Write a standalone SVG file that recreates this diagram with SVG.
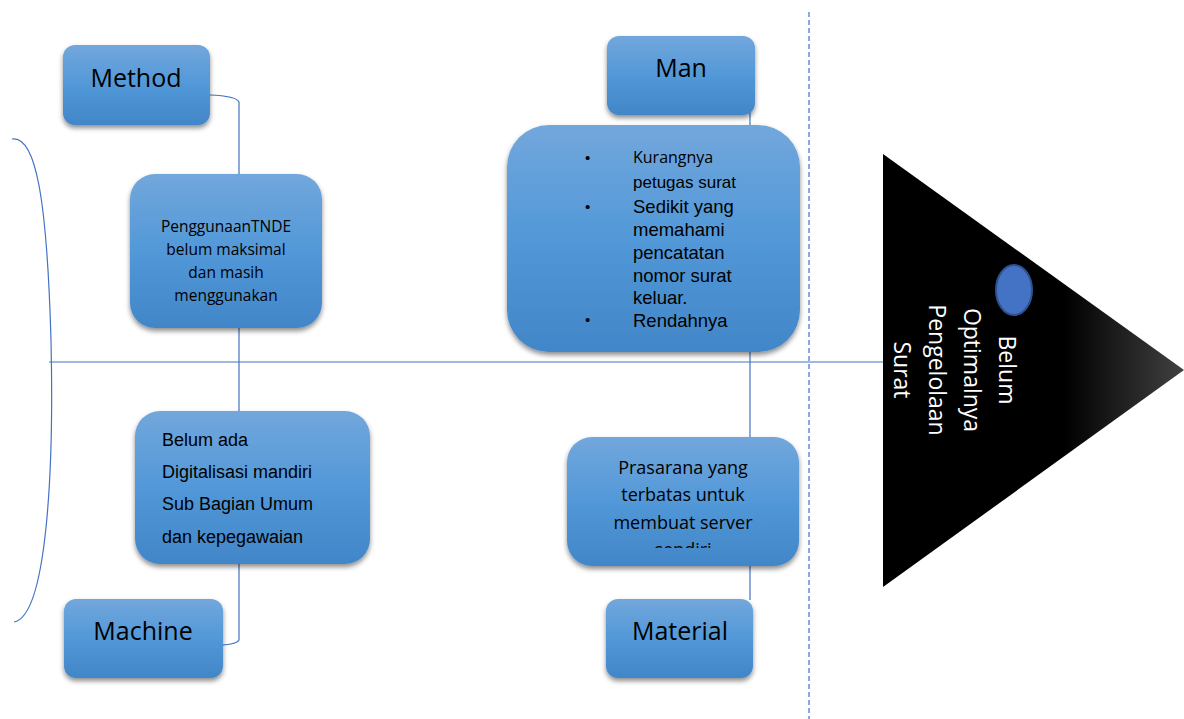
<svg xmlns="http://www.w3.org/2000/svg" width="1184" height="719" viewBox="0 0 1184 719">
<defs>
<linearGradient id="boxg" x1="0" y1="0" x2="0" y2="1">
<stop offset="0" stop-color="#72A7DC"/>
<stop offset="0.5" stop-color="#5298D8"/>
<stop offset="1" stop-color="#4186C8"/>
</linearGradient>
<linearGradient id="trig" x1="0" y1="0" x2="1" y2="0">
<stop offset="0" stop-color="#000"/>
<stop offset="0.6" stop-color="#000"/>
<stop offset="1" stop-color="#414141"/>
</linearGradient>
<filter id="sh" x="-10%" y="-10%" width="125%" height="130%">
<feDropShadow dx="0" dy="3" stdDeviation="2.5" flood-color="#000" flood-opacity="0.45"/>
</filter>
<clipPath id="prclip"><rect x="567" y="437" width="232" height="111"/></clipPath>
</defs>
<style>
.box{fill:url(#boxg);filter:url(#sh);}
.ln{fill:none;stroke:#4472C4;stroke-width:1.2;}
.lbl{font-family:"Open Sans","Noto Sans",sans-serif;font-size:25px;fill:#000;text-anchor:middle;}
.cal{font-family:"Open Sans","Noto Sans",sans-serif;fill:#000;}
.ar{font-family:"Liberation Sans",Arial,sans-serif;fill:#000;}
.wt{font-family:"Open Sans","Noto Sans",sans-serif;font-size:23px;fill:#fff;text-anchor:middle;}
</style>
<g id="connectors">
<path class="ln" d="M12,139 C36,135 47,200 51,340 C54,470 47,616 14,622"/>
<path class="ln" d="M49,362 L883,362"/>
<path class="ln" d="M210,95 Q236,96 239,102 L239,640 Q237,644 223,645"/>
<path class="ln" d="M750,112 L750,600"/>
<path class="ln" d="M809,12 L809,719" stroke-width="1.5" stroke-dasharray="5,3"/>
</g>
<g id="method">
<rect class="box" x="63" y="45" width="147" height="80" rx="12"/>
<text class="lbl" x="136" y="87">Method</text>
</g>
<g id="penggunaan">
<rect class="box" x="130" y="174" width="192" height="154" rx="25"/>
<text class="cal" font-size="15.5" text-anchor="middle"><tspan x="226" y="232">PenggunaanTNDE</tspan><tspan x="226" y="255">belum maksimal</tspan><tspan x="226" y="278">dan masih</tspan><tspan x="226" y="301">menggunakan</tspan></text>
</g>
<g id="belumada">
<rect class="box" x="135" y="411" width="235" height="153" rx="25"/>
<text class="ar" font-size="18"><tspan x="162" y="446">Belum ada</tspan><tspan x="162" y="478">Digitalisasi mandiri</tspan><tspan x="162" y="510">Sub Bagian Umum</tspan><tspan x="162" y="543">dan kepegawaian</tspan></text>
</g>
<g id="machine">
<rect class="box" x="64" y="599" width="159" height="79" rx="12"/>
<text class="lbl" x="143" y="640">Machine</text>
</g>
<g id="man">
<rect class="box" x="607" y="36" width="148" height="79" rx="12"/>
<text class="lbl" x="681" y="77">Man</text>
</g>
<g id="mandetail">
<rect class="box" x="507" y="125" width="293" height="227" rx="42"/>
<text class="ar" font-size="15" x="585" y="163">•</text>
<text class="cal" font-size="16" x="633" y="163">Kurangnya</text>
<text class="ar" font-size="17" x="633" y="188">petugas surat</text>
<text class="ar" font-size="15" x="585" y="212">•</text>
<text class="ar" font-size="18.5"><tspan x="633" y="213">Sedikit yang</tspan><tspan x="633" y="236">memahami</tspan><tspan x="633" y="259">pencatatan</tspan><tspan x="633" y="282">nomor surat</tspan><tspan x="633" y="304">keluar.</tspan><tspan x="633" y="327">Rendahnya</tspan></text>
<text class="ar" font-size="15" x="585" y="325">•</text>
</g>
<g id="prasarana">
<rect class="box" x="567" y="437" width="232" height="129" rx="25"/>
<text class="cal" font-size="18" text-anchor="middle" clip-path="url(#prclip)"><tspan x="683" y="474">Prasarana yang</tspan><tspan x="683" y="501">terbatas untuk</tspan><tspan x="683" y="529">membuat server</tspan><tspan x="683" y="556">sendiri</tspan></text>
</g>
<g id="material">
<rect class="box" x="606" y="599" width="147" height="79" rx="12"/>
<text class="lbl" x="680" y="640">Material</text>
</g>
<g id="effect">
<polygon points="883,154 1184,370 883,587" fill="url(#trig)"/>
<ellipse cx="1014" cy="290" rx="18" ry="25" fill="#4472C4" stroke="#2F528F" stroke-width="2"/>
<text class="wt" transform="translate(1007,370) rotate(90)"><tspan x="0" y="8">Belum</tspan><tspan x="0" y="43">Optimalnya</tspan><tspan x="0" y="78">Pengelolaan</tspan><tspan x="0" y="113">Surat</tspan></text>
</g>
</svg>
